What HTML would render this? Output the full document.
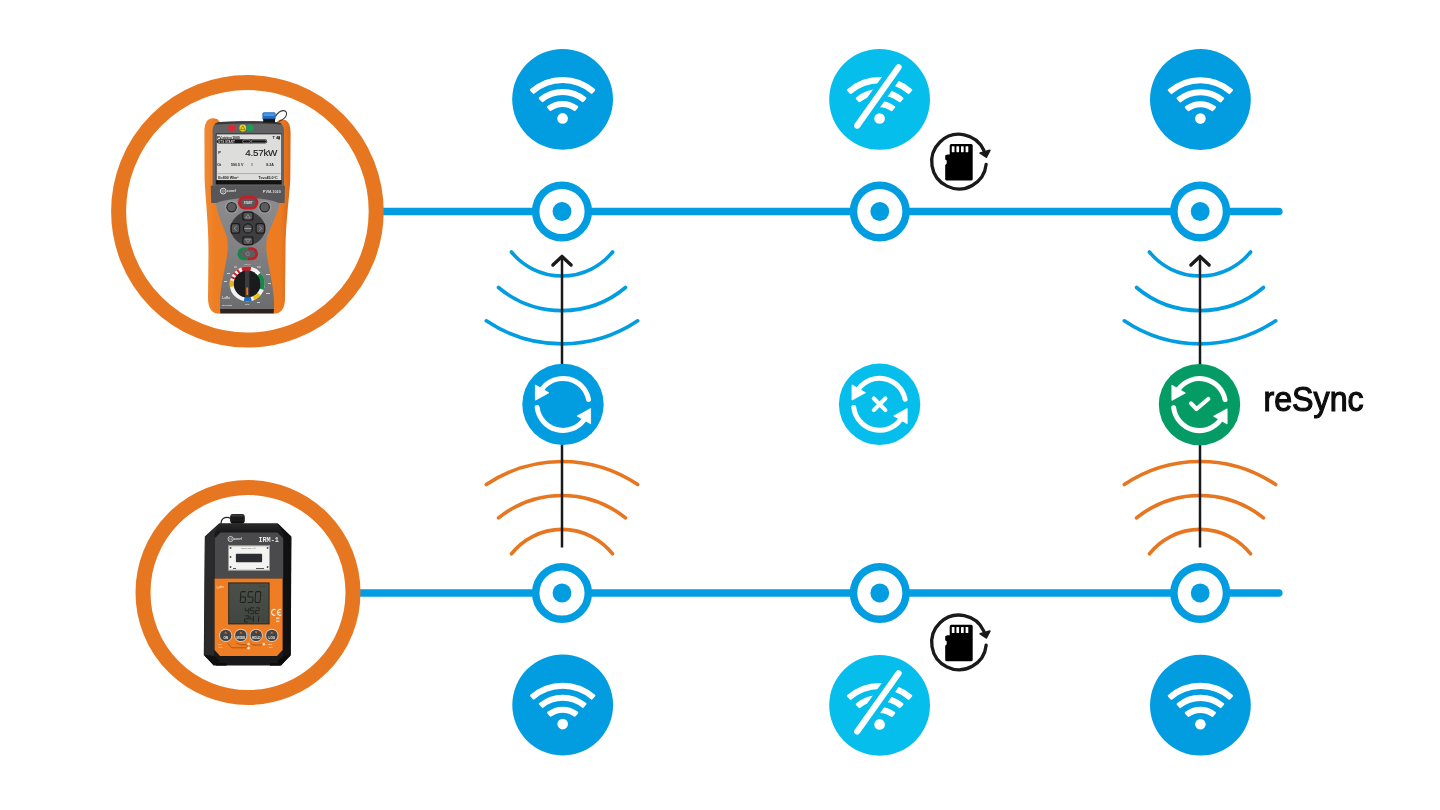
<!DOCTYPE html>
<html><head><meta charset="utf-8"><style>
html,body{margin:0;padding:0;background:#fff;}
body{width:1440px;height:810px;overflow:hidden;position:relative;}
svg{position:absolute;left:0;top:0;will-change:transform;}
.t{position:absolute;left:1263px;top:378px;font-family:"Liberation Sans",sans-serif;font-weight:bold;font-size:33px;color:#111;}
</style></head><body>
<svg width="1440" height="810" viewBox="0 0 1440 810">
<line x1="378" y1="211.5" x2="1278.8" y2="211.5" stroke="#029DE0" stroke-width="7.6" stroke-linecap="round"/>
<line x1="354" y1="593" x2="1278.8" y2="593" stroke="#029DE0" stroke-width="7.6" stroke-linecap="round"/>
<circle cx="247.4" cy="211.3" r="128.8" fill="none" stroke="#E77620" stroke-width="15"/>
<circle cx="248" cy="592.5" r="105" fill="none" stroke="#E77620" stroke-width="15"/>
<circle cx="562" cy="211.5" r="26.3" fill="#fff" stroke="#029DE0" stroke-width="7.5"/><circle cx="562" cy="211.5" r="9.4" fill="#029DE0"/>
<circle cx="562" cy="593" r="26.3" fill="#fff" stroke="#029DE0" stroke-width="7.5"/><circle cx="562" cy="593" r="9.4" fill="#029DE0"/>
<circle cx="879.8" cy="211.5" r="26.3" fill="#fff" stroke="#029DE0" stroke-width="7.5"/><circle cx="879.8" cy="211.5" r="9.4" fill="#029DE0"/>
<circle cx="879.8" cy="593" r="26.3" fill="#fff" stroke="#029DE0" stroke-width="7.5"/><circle cx="879.8" cy="593" r="9.4" fill="#029DE0"/>
<circle cx="1200.2" cy="211.5" r="26.3" fill="#fff" stroke="#029DE0" stroke-width="7.5"/><circle cx="1200.2" cy="211.5" r="9.4" fill="#029DE0"/>
<circle cx="1200.2" cy="593" r="26.3" fill="#fff" stroke="#029DE0" stroke-width="7.5"/><circle cx="1200.2" cy="593" r="9.4" fill="#029DE0"/>
<circle cx="562.6" cy="99.3" r="50.4" fill="#029DE0"/><path d="M531.02 89.91 A47.95 47.95 0 0 1 594.18 89.91 L591.54 92.79 A44.05 44.05 0 0 0 533.66 92.79 Z" fill="#fff" stroke="#fff" stroke-width="2.2" stroke-linejoin="round"/><path d="M539.86 98.16 A35.95 35.95 0 0 1 585.34 98.16 L582.78 101.10 A32.05 32.05 0 0 0 542.42 101.10 Z" fill="#fff" stroke="#fff" stroke-width="2.2" stroke-linejoin="round"/><path d="M548.06 106.97 A23.95 23.95 0 0 1 577.14 106.97 L574.63 109.96 A20.05 20.05 0 0 0 550.57 109.96 Z" fill="#fff" stroke="#fff" stroke-width="2.2" stroke-linejoin="round"/><circle cx="562.6" cy="118.4" r="5.3" fill="#fff"/>
<circle cx="879.6" cy="99.4" r="50.4" fill="#06BEEB"/><path d="M848.02 90.01 A47.95 47.95 0 0 1 911.18 90.01 L908.54 92.89 A44.05 44.05 0 0 0 850.66 92.89 Z" fill="#fff" stroke="#fff" stroke-width="2.2" stroke-linejoin="round"/><path d="M856.86 98.26 A35.95 35.95 0 0 1 902.34 98.26 L899.78 101.20 A32.05 32.05 0 0 0 859.42 101.20 Z" fill="#fff" stroke="#fff" stroke-width="2.2" stroke-linejoin="round"/><path d="M865.06 107.07 A23.95 23.95 0 0 1 894.14 107.07 L891.63 110.06 A20.05 20.05 0 0 0 867.57 110.06 Z" fill="#fff" stroke="#fff" stroke-width="2.2" stroke-linejoin="round"/><circle cx="879.6" cy="118.5" r="5.3" fill="#fff"/><line x1="898.6" y1="67.30000000000001" x2="857.2" y2="125.60000000000001" stroke="#06BEEB" stroke-width="16" stroke-linecap="butt"/><line x1="898.6" y1="67.30000000000001" x2="857.2" y2="125.60000000000001" stroke="#fff" stroke-width="6.2" stroke-linecap="round"/>
<circle cx="1200.4" cy="99.5" r="50.4" fill="#029DE0"/><path d="M1168.82 90.11 A47.95 47.95 0 0 1 1231.98 90.11 L1229.34 92.99 A44.05 44.05 0 0 0 1171.46 92.99 Z" fill="#fff" stroke="#fff" stroke-width="2.2" stroke-linejoin="round"/><path d="M1177.66 98.36 A35.95 35.95 0 0 1 1223.14 98.36 L1220.58 101.30 A32.05 32.05 0 0 0 1180.22 101.30 Z" fill="#fff" stroke="#fff" stroke-width="2.2" stroke-linejoin="round"/><path d="M1185.86 107.17 A23.95 23.95 0 0 1 1214.94 107.17 L1212.43 110.16 A20.05 20.05 0 0 0 1188.37 110.16 Z" fill="#fff" stroke="#fff" stroke-width="2.2" stroke-linejoin="round"/><circle cx="1200.4" cy="118.6" r="5.3" fill="#fff"/>
<circle cx="562.7" cy="705" r="50.4" fill="#029DE0"/><path d="M531.12 695.61 A47.95 47.95 0 0 1 594.28 695.61 L591.64 698.49 A44.05 44.05 0 0 0 533.76 698.49 Z" fill="#fff" stroke="#fff" stroke-width="2.2" stroke-linejoin="round"/><path d="M539.96 703.86 A35.95 35.95 0 0 1 585.44 703.86 L582.88 706.80 A32.05 32.05 0 0 0 542.52 706.80 Z" fill="#fff" stroke="#fff" stroke-width="2.2" stroke-linejoin="round"/><path d="M548.16 712.67 A23.95 23.95 0 0 1 577.24 712.67 L574.73 715.66 A20.05 20.05 0 0 0 550.67 715.66 Z" fill="#fff" stroke="#fff" stroke-width="2.2" stroke-linejoin="round"/><circle cx="562.7" cy="724.1" r="5.3" fill="#fff"/>
<circle cx="879.6" cy="705.3" r="50.4" fill="#06BEEB"/><path d="M848.02 695.91 A47.95 47.95 0 0 1 911.18 695.91 L908.54 698.79 A44.05 44.05 0 0 0 850.66 698.79 Z" fill="#fff" stroke="#fff" stroke-width="2.2" stroke-linejoin="round"/><path d="M856.86 704.16 A35.95 35.95 0 0 1 902.34 704.16 L899.78 707.10 A32.05 32.05 0 0 0 859.42 707.10 Z" fill="#fff" stroke="#fff" stroke-width="2.2" stroke-linejoin="round"/><path d="M865.06 712.97 A23.95 23.95 0 0 1 894.14 712.97 L891.63 715.96 A20.05 20.05 0 0 0 867.57 715.96 Z" fill="#fff" stroke="#fff" stroke-width="2.2" stroke-linejoin="round"/><circle cx="879.6" cy="724.4" r="5.3" fill="#fff"/><line x1="898.6" y1="673.1999999999999" x2="857.2" y2="731.5" stroke="#06BEEB" stroke-width="16" stroke-linecap="butt"/><line x1="898.6" y1="673.1999999999999" x2="857.2" y2="731.5" stroke="#fff" stroke-width="6.2" stroke-linecap="round"/>
<circle cx="1200.4" cy="705.2" r="50.4" fill="#029DE0"/><path d="M1168.82 695.81 A47.95 47.95 0 0 1 1231.98 695.81 L1229.34 698.69 A44.05 44.05 0 0 0 1171.46 698.69 Z" fill="#fff" stroke="#fff" stroke-width="2.2" stroke-linejoin="round"/><path d="M1177.66 704.06 A35.95 35.95 0 0 1 1223.14 704.06 L1220.58 707.00 A32.05 32.05 0 0 0 1180.22 707.00 Z" fill="#fff" stroke="#fff" stroke-width="2.2" stroke-linejoin="round"/><path d="M1185.86 712.87 A23.95 23.95 0 0 1 1214.94 712.87 L1212.43 715.86 A20.05 20.05 0 0 0 1188.37 715.86 Z" fill="#fff" stroke="#fff" stroke-width="2.2" stroke-linejoin="round"/><circle cx="1200.4" cy="724.3000000000001" r="5.3" fill="#fff"/>
<path d="M511.40 252 A65.34 65.34 0 0 0 612.60 252" fill="none" stroke="#029DE0" stroke-width="3.6" stroke-linecap="round"/><path d="M498.50 287.5 A98.83 98.83 0 0 0 625.50 287.5" fill="none" stroke="#029DE0" stroke-width="3.6" stroke-linecap="round"/><path d="M486.30 320.8 A135.59 135.59 0 0 0 637.70 320.8" fill="none" stroke="#029DE0" stroke-width="3.6" stroke-linecap="round"/><path d="M486.30 484.6 A135.59 135.59 0 0 1 637.70 484.6" fill="none" stroke="#E77620" stroke-width="3.6" stroke-linecap="round"/><path d="M498.50 517.9 A101.21 101.21 0 0 1 625.50 517.9" fill="none" stroke="#E77620" stroke-width="3.6" stroke-linecap="round"/><path d="M511.40 553.9 A64.50 64.50 0 0 1 612.60 553.9" fill="none" stroke="#E77620" stroke-width="3.6" stroke-linecap="round"/><line x1="562.0" y1="257" x2="562.0" y2="547.5" stroke="#1a1a1a" stroke-width="2.5"/><path d="M552.9 265 L562.0 256.4 L571.1 265" fill="none" stroke="#1a1a1a" stroke-width="3.4" stroke-linecap="round" stroke-linejoin="round"/>
<path d="M1149.40 252 A65.34 65.34 0 0 0 1250.60 252" fill="none" stroke="#029DE0" stroke-width="3.6" stroke-linecap="round"/><path d="M1136.50 287.5 A98.83 98.83 0 0 0 1263.50 287.5" fill="none" stroke="#029DE0" stroke-width="3.6" stroke-linecap="round"/><path d="M1124.30 320.8 A135.59 135.59 0 0 0 1275.70 320.8" fill="none" stroke="#029DE0" stroke-width="3.6" stroke-linecap="round"/><path d="M1124.30 484.6 A135.59 135.59 0 0 1 1275.70 484.6" fill="none" stroke="#E77620" stroke-width="3.6" stroke-linecap="round"/><path d="M1136.50 517.9 A101.21 101.21 0 0 1 1263.50 517.9" fill="none" stroke="#E77620" stroke-width="3.6" stroke-linecap="round"/><path d="M1149.40 553.9 A64.50 64.50 0 0 1 1250.60 553.9" fill="none" stroke="#E77620" stroke-width="3.6" stroke-linecap="round"/><line x1="1200" y1="257" x2="1200" y2="547.5" stroke="#1a1a1a" stroke-width="2.5"/><path d="M1190.9 265 L1200 256.4 L1209.1 265" fill="none" stroke="#1a1a1a" stroke-width="3.4" stroke-linecap="round" stroke-linejoin="round"/>
<circle cx="563" cy="404.4" r="40.7" fill="#029DE0"/><path d="M588.52 399.44 A26 26 0 0 0 542.13 388.90" fill="none" stroke="#fff" stroke-width="5" stroke-linecap="round"/><polygon points="535.40,385.00 535.40,400.20 548.90,392.80" fill="#fff" stroke="#fff" stroke-width="0.8" stroke-linejoin="round"/><path d="M537.19 407.57 A26 26 0 0 0 583.87 419.90" fill="none" stroke="#fff" stroke-width="5" stroke-linecap="round"/><polygon points="590.60,423.80 590.60,408.60 577.10,416.00" fill="#fff" stroke="#fff" stroke-width="0.8" stroke-linejoin="round"/>
<circle cx="879.6" cy="404.3" r="40.7" fill="#06BEEB"/><path d="M905.12 399.34 A26 26 0 0 0 858.73 388.80" fill="none" stroke="#fff" stroke-width="5" stroke-linecap="round"/><polygon points="852.00,384.90 852.00,400.10 865.50,392.70" fill="#fff" stroke="#fff" stroke-width="0.8" stroke-linejoin="round"/><path d="M853.79 407.47 A26 26 0 0 0 900.47 419.80" fill="none" stroke="#fff" stroke-width="5" stroke-linecap="round"/><polygon points="907.20,423.70 907.20,408.50 893.70,415.90" fill="#fff" stroke="#fff" stroke-width="0.8" stroke-linejoin="round"/><path d="M873.8000000000001 398.5 L885.4 410.1 M885.4 398.5 L873.8000000000001 410.1" stroke="#fff" stroke-width="4.1" stroke-linecap="round"/>
<circle cx="1199.5" cy="404.6" r="40.7" fill="#049C64"/><path d="M1225.02 399.64 A26 26 0 0 0 1178.63 389.10" fill="none" stroke="#fff" stroke-width="5" stroke-linecap="round"/><polygon points="1171.90,385.20 1171.90,400.40 1185.40,393.00" fill="#fff" stroke="#fff" stroke-width="0.8" stroke-linejoin="round"/><path d="M1173.69 407.77 A26 26 0 0 0 1220.37 420.10" fill="none" stroke="#fff" stroke-width="5" stroke-linecap="round"/><polygon points="1227.10,424.00 1227.10,408.80 1213.60,416.20" fill="#fff" stroke="#fff" stroke-width="0.8" stroke-linejoin="round"/><path d="M1191.0 403.40000000000003 L1196.5 409.0 L1208.3 399.0" fill="none" stroke="#fff" stroke-width="4.2" stroke-linecap="round" stroke-linejoin="round"/>
<path d="M983.94 150.50 A27.3 27.3 0 1 0 986.15 164.45" fill="none" stroke="#1a1a1a" stroke-width="3.3" stroke-linecap="round"/><path d="M980.2 153.0 L989.8 150.4 L986.3 157.0Z" fill="#1a1a1a" stroke="#1a1a1a" stroke-width="1.8" stroke-linejoin="round"/><path d="M949.7 144.0 h21.5 a1.5 1.5 0 0 1 1.5 1.5 v33.5 a1.5 1.5 0 0 1 -1.5 1.5 h-24.5 a1.5 1.5 0 0 1 -1.5 -1.5 v-14 l1.5 -1.5 v-3 l-1.5 -1 v-4 l2 -1 h2.5 v-9 a1.5 1.5 0 0 1 1.5 -1.5z" fill="#000"/><rect x="951.80" y="146.2" width="2.7" height="6" rx="0.6" fill="#fff"/><rect x="956.40" y="146.2" width="2.7" height="6" rx="0.6" fill="#fff"/><rect x="961.00" y="146.2" width="2.7" height="6" rx="0.6" fill="#fff"/><rect x="965.60" y="146.2" width="2.7" height="6" rx="0.6" fill="#fff"/>
<path d="M983.94 631.30 A27.3 27.3 0 1 0 986.15 645.25" fill="none" stroke="#1a1a1a" stroke-width="3.3" stroke-linecap="round"/><path d="M980.2 633.8 L989.8 631.1999999999999 L986.3 637.8Z" fill="#1a1a1a" stroke="#1a1a1a" stroke-width="1.8" stroke-linejoin="round"/><path d="M949.7 624.8 h21.5 a1.5 1.5 0 0 1 1.5 1.5 v33.5 a1.5 1.5 0 0 1 -1.5 1.5 h-24.5 a1.5 1.5 0 0 1 -1.5 -1.5 v-14 l1.5 -1.5 v-3 l-1.5 -1 v-4 l2 -1 h2.5 v-9 a1.5 1.5 0 0 1 1.5 -1.5z" fill="#000"/><rect x="951.80" y="627.0" width="2.7" height="6" rx="0.6" fill="#fff"/><rect x="956.40" y="627.0" width="2.7" height="6" rx="0.6" fill="#fff"/><rect x="961.00" y="627.0" width="2.7" height="6" rx="0.6" fill="#fff"/><rect x="965.60" y="627.0" width="2.7" height="6" rx="0.6" fill="#fff"/>
<g id="pvm">
  <defs>
    <linearGradient id="faceg" x1="0" y1="0" x2="0" y2="1">
      <stop offset="0" stop-color="#8C8C8E"/><stop offset="0.45" stop-color="#828284"/><stop offset="1" stop-color="#6C6C6E"/>
    </linearGradient>
    <linearGradient id="bumpg" x1="0" y1="0" x2="1" y2="0">
      <stop offset="0" stop-color="#F08A35"/><stop offset="0.12" stop-color="#EE7E24"/><stop offset="0.88" stop-color="#EC7B22"/><stop offset="1" stop-color="#D7691A"/>
    </linearGradient>
  </defs>
  <!-- bumper -->
  <path d="M213 118.3 C207 118.5 204.4 123 204.4 132 L204.6 180 C205.5 200 208.5 225 208.5 250 L208 298 C208 309 212 313.8 220 313.8 L273 313.8 C281 313.8 285 309 285 298 L285.5 250 C285.5 225 289 200 290.3 180 L290.6 133 C290.6 124 288 119.4 282.2 119.4 C278 119.4 276.5 121.5 275.5 126 L221 126 C220 121 218 118.3 213 118.3 Z" fill="url(#bumpg)"/>
  <!-- cable loop + connector -->
  <path d="M275.5 116.5 C280 108.5 287.5 109.5 286.5 114.5 C286 117.5 283.5 119.5 279 121.5" fill="none" stroke="#3a3a3a" stroke-width="1.1"/>
  <!-- top gray housing -->
  <path d="M220 122 C240 120.8 258 120.8 277 122.3 C281.5 122.8 284 126 284 131 L284 186 L212.6 186 L212.6 131 C212.6 125.5 215.5 122.3 220 122 Z" fill="#636365"/>
  <path d="M220 122 C240 120.8 258 120.8 277 122.3 C280 122.6 281.5 123.5 282 124.5 C260 123.3 238 123.3 214.5 124.5 C215.5 123 217.5 122.2 220 122 Z" fill="#3a3a3c"/>
  <rect x="262.4" y="112.3" width="13.3" height="7.6" rx="1.6" fill="#1F6FC2"/>
  <rect x="263.6" y="113.2" width="11" height="2.8" rx="1" fill="#4A98E6"/>
  <rect x="263.2" y="118.8" width="11.8" height="3.8" fill="#161616"/>
  <!-- LEDs -->
  <circle cx="231.8" cy="128" r="3.6" fill="#DD2A30"/>
  <circle cx="242.8" cy="128" r="3.4" fill="#E9D21C"/>
  <path d="M242.8 125.8 L245 129.6 L240.6 129.6 Z" fill="none" stroke="#5a4b00" stroke-width="0.5"/>
  <circle cx="249.9" cy="128" r="3.5" fill="#17A05C"/>
  <!-- screen -->
  <rect x="215.8" y="133.6" width="65.8" height="50.8" fill="#121212"/>
  <rect x="216.6" y="134.3" width="64.7" height="45.8" fill="#DDDEDC"/>
  <g font-family="Liberation Sans, sans-serif" font-weight="bold" fill="#1a1a1a">
    <text x="217" y="138.6" font-size="3.6" letter-spacing="-0.15">PV-string 1000</text>
    <text x="272.5" y="138.8" font-size="4">T 4▮</text>
  </g>
  <rect x="216.9" y="139.3" width="50.2" height="4.3" rx="2.1" fill="#151515"/>
  <text x="218" y="142.7" font-family="Liberation Sans, sans-serif" font-weight="bold" font-size="3" fill="#cfcfcf">GTS START</text>
  <rect x="242.6" y="139.9" width="7.8" height="3.1" rx="1.5" fill="none" stroke="#cfcfcf" stroke-width="0.5"/>
  <rect x="251.3" y="139.9" width="15" height="3.1" rx="1.5" fill="none" stroke="#cfcfcf" stroke-width="0.5"/>
  <text x="277.2" y="155.8" font-family="Liberation Sans, sans-serif" font-size="9.9" text-anchor="end" fill="#1b1b1b" stroke="#1b1b1b" stroke-width="0.15" letter-spacing="-0.25">4.57kW</text>
  <text x="218.3" y="153.6" font-family="Liberation Sans, sans-serif" font-size="4" font-weight="bold" fill="#222">P</text>
  <g font-family="Liberation Sans, sans-serif" font-size="3.6" font-weight="bold" fill="#2a2a2a">
    <text x="217.2" y="166">Gt</text>
    <text x="231" y="166">590.5 V</text>
    <text x="251.5" y="166">I</text>
    <text x="266.3" y="166">8.2A</text>
  </g>
  <line x1="217.5" y1="173.6" x2="280.5" y2="173.6" stroke="#555" stroke-width="0.35"/>
  <g font-family="Liberation Sans, sans-serif" font-size="3.6" font-weight="bold" fill="#1e1e1e">
    <text x="218.2" y="178.8">E=800 W/m²</text>
    <text x="258.5" y="178.8">Tcv=45.0°C</text>
  </g>
  <!-- logo panel -->
  <path d="M210.8 185.8 L284.9 185.8 L284.6 203 L211.2 203 Z" fill="#575759"/>
  <circle cx="223.2" cy="191.1" r="2.9" fill="none" stroke="#e6e6e6" stroke-width="0.9"/>
  <circle cx="223.2" cy="191.1" r="1.2" fill="none" stroke="#e6e6e6" stroke-width="0.5"/>
  <text x="226.8" y="192.4" font-family="Liberation Sans, sans-serif" font-size="3.5" font-weight="bold" font-style="italic" fill="#e6e6e6">sonel</text>
  <text x="280.8" y="192.6" font-family="Liberation Sans, sans-serif" font-size="3.8" font-weight="bold" text-anchor="end" fill="#dcdcdc">PVM-1020</text>
  <!-- keypad face -->
  <path d="M215.8 203.2 C232 196.5 263 196.5 279.6 203.2 C278 212 273 222 268 234 C266 240 266 248 266.8 254 C268.5 268 273 282 274 300 L274 309 L220 309 L220 300 C221 282 225.5 268 227.2 254 C228 248 228 240 226 234 C221 222 217 212 215.8 203.2 Z" fill="url(#faceg)"/>
  <path d="M220 309 L274 309 L273.6 313.3 L220.4 313.3 Z" fill="#2e2320"/>
  <!-- START -->
  <rect x="238" y="195.8" width="20.4" height="13.8" rx="6.9" fill="#C41F28"/>
  <rect x="240.8" y="198.7" width="14.8" height="8" rx="4" fill="#58585a"/>
  <text x="248.2" y="204.1" font-family="Liberation Sans, sans-serif" font-size="2.7" font-weight="bold" text-anchor="middle" fill="#e2e2e2">START</text>
  <!-- side round buttons -->
  <circle cx="231.6" cy="207.2" r="6.8" fill="#9a9a9c"/>
  <circle cx="231.6" cy="207.2" r="5.3" fill="#262628"/>
  <circle cx="231.6" cy="207.2" r="4.1" fill="#5c5c5e"/>
  <circle cx="264.7" cy="207.2" r="6.8" fill="#9a9a9c"/>
  <circle cx="264.7" cy="207.2" r="5.3" fill="#262628"/>
  <circle cx="264.7" cy="207.2" r="4.1" fill="#5c5c5e"/>
  <!-- dpad -->
  <path d="M247.9 211.2 C256 211.2 265.5 220 265.5 228.4 C265.5 237 256 245.6 247.9 245.6 C240 245.6 230.4 237 230.4 228.4 C230.4 220 240 211.2 247.9 211.2 Z" fill="#3e3e40"/>
  <g fill="#1c1c1e">
    <rect x="242.2" y="211.6" width="11.4" height="9" rx="2.2"/>
    <rect x="242.2" y="236.3" width="11.4" height="9" rx="2.2"/>
    <rect x="230.6" y="223.1" width="9.6" height="10.6" rx="2.2"/>
    <rect x="255.5" y="223.1" width="9.6" height="10.6" rx="2.2"/>
    <circle cx="247.9" cy="228.4" r="5.1"/>
  </g>
  <g fill="#555557">
    <rect x="243.5" y="212.8" width="8.8" height="6.6" rx="1.6"/>
    <rect x="243.5" y="237.5" width="8.8" height="6.6" rx="1.6"/>
    <rect x="231.8" y="224.3" width="7.2" height="8.2" rx="1.6"/>
    <rect x="256.7" y="224.3" width="7.2" height="8.2" rx="1.6"/>
    <circle cx="247.9" cy="228.4" r="3.9"/>
  </g>
  <g fill="none" stroke="#cfcfcf" stroke-width="0.45">
    <path d="M245.5 218 L247.9 214.6 L250.3 218 Z"/>
    <path d="M245.5 239.3 L250.3 239.3 L247.9 242.6 Z"/>
    <path d="M236.5 226.2 L234 228.4 L236.5 230.6"/>
    <path d="M259.3 226.2 L261.8 228.4 L259.3 230.6"/>
  </g>
  <text x="247.9" y="229.3" font-family="Liberation Sans, sans-serif" font-size="2" font-weight="bold" text-anchor="middle" fill="#ddd">ENTER</text>
  <!-- green/red button -->
  <path d="M244 247.3 L247.7 247.3 L247.7 260.3 L244 260.3 A6.5 6.5 0 0 1 244 247.3 Z" fill="#13874A"/>
  <path d="M247.7 247.3 L251.6 247.3 A6.5 6.5 0 0 1 251.6 260.3 L247.7 260.3 Z" fill="#BE1E27"/>
  <rect x="240.2" y="250" width="15" height="7.6" rx="3.8" fill="#5d5d5f"/>
  <circle cx="247.7" cy="253.8" r="1.8" fill="none" stroke="#bbb" stroke-width="0.4"/>
  <!-- dial ring -->
  <g transform="translate(247.2 284)">
    <circle r="15.4" fill="none" stroke="#f2f2f2" stroke-width="4.2"/>
    <circle r="15.4" fill="none" stroke="#C8202A" stroke-width="4.2" stroke-dasharray="9 87.8" transform="rotate(-110)"/>
    <circle r="15.4" fill="none" stroke="#C8202A" stroke-width="4.2" stroke-dasharray="2 2.2 2 2.2 2 100" transform="rotate(-160)"/>
    <circle r="15.4" fill="none" stroke="#138A4C" stroke-width="4.2" stroke-dasharray="16 80.8" transform="rotate(-40)"/>
    <circle r="15.4" fill="none" stroke="#E8C51E" stroke-width="4.2" stroke-dasharray="7 89.8" transform="rotate(40)"/>
    <circle r="15.4" fill="none" stroke="#1C6DC2" stroke-width="4.2" stroke-dasharray="7 89.8" transform="rotate(75)"/>
    <circle r="15.4" fill="none" stroke="#E8B21E" stroke-width="4.2" stroke-dasharray="6 90.8" transform="rotate(170)"/>
    <circle r="13.4" fill="#1b1b1d"/>
    <rect x="-2.2" y="-13" width="4.4" height="26" fill="#3b3b3d"/>
    <rect x="-0.9" y="3.5" width="1.8" height="7.5" fill="#E8761F"/>
  </g>
  <!-- small labels -->
  <g font-family="Liberation Sans, sans-serif" font-weight="bold" fill="#dedede">
    <text x="247.2" y="265.2" font-size="2.3" text-anchor="middle">AUTO</text>
    <text x="222.3" y="299.4" font-size="3">LoRa</text>
    <text x="222" y="305.8" font-size="2.2">Bluetooth</text>
    <text x="247.2" y="304.8" font-size="1.8" text-anchor="middle">MEM</text>
  </g>
  <g fill="#d0d0d0">
    <rect x="234" y="266.5" width="3" height="1" /><rect x="257" y="266.5" width="4" height="1"/>
    <rect x="227" y="273" width="3" height="1"/><rect x="266" y="274" width="4" height="1"/>
    <rect x="224" y="281" width="3" height="1"/><rect x="268" y="283" width="3" height="1"/>
    <rect x="266" y="293" width="4" height="1"/><rect x="257" y="302" width="3" height="1"/>
  </g>
</g>
<g id="irm">
  <defs>
    <linearGradient id="lcdg" x1="0" y1="0" x2="0" y2="1">
      <stop offset="0" stop-color="#4B504B"/><stop offset="1" stop-color="#414641"/>
    </linearGradient>
    <linearGradient id="bevt" x1="0" y1="0" x2="0" y2="1">
      <stop offset="0" stop-color="#2a2a2c"/><stop offset="1" stop-color="#161618"/>
    </linearGradient>
  </defs>
  <!-- connector -->
  <path d="M231 518.5 C225 515.5 220.5 519 221.2 524.5" fill="none" stroke="#222" stroke-width="1.2"/>
  <rect x="230.1" y="513.9" width="14.7" height="9.6" rx="3" fill="#1a1a1a"/>
  <rect x="231" y="514.4" width="12.9" height="2.2" rx="1" fill="#3a3a3a"/>
  <rect x="231.5" y="521.5" width="12" height="2" fill="#0e0e0e"/>
  <!-- body -->
  <path d="M219 523.4 L278 523.4 L291.4 536.5 L290.8 655 L281 665.4 L213.8 665.4 L203.8 655 L204.8 536.5 Z" fill="#19191b"/>
  <path d="M219.5 523.6 L277.5 523.6 L283.5 532.8 L213.5 532.8 Z" fill="url(#bevt)"/>
  <path d="M205 537 L219.3 523.8 L214.6 533 L214.3 656 L204.2 655 Z" fill="#2a2a2c"/>
  <path d="M291.2 537 L277.7 523.8 L283.3 533 L283.3 656 L290.6 655 Z" fill="#101012"/>
  <path d="M204 655 L214.3 656 L220 661.5 L213.8 665.4 Z" fill="#0f0f10"/>
  <path d="M291 655 L283.3 656 L277 661.5 L281 665.4 Z" fill="#0a0a0b"/>
  <!-- gray face -->
  <path d="M220.5 532.6 L277.3 532.6 L283.2 538.3 L283.2 578.6 L214.8 578.6 L214.8 538.3 Z" fill="#4A4A4C"/>
  <circle cx="230.6" cy="539" r="2.6" fill="none" stroke="#e2e2e2" stroke-width="0.8"/>
  <circle cx="230.6" cy="539" r="1.1" fill="none" stroke="#e2e2e2" stroke-width="0.45"/>
  <text x="233.6" y="540.4" font-family="Liberation Sans, sans-serif" font-size="3.2" font-weight="bold" font-style="italic" fill="#e2e2e2">sonel</text>
  <text x="278.8" y="541.8" font-family="Liberation Mono, monospace" font-size="6.8" font-weight="bold" text-anchor="end" fill="#e8e8e8">IRM-1</text>
  <rect x="228" y="545.4" width="42" height="25.2" fill="#F3F3F1"/>
  <rect x="228.5" y="545.9" width="41" height="24.2" fill="none" stroke="#6a6a6a" stroke-width="0.6"/>
  <rect x="235.9" y="553.8" width="26.2" height="8.4" rx="0.8" fill="#2A2E32"/>
  <g fill="#555" font-family="Liberation Sans, sans-serif" font-size="1.8">
    <text x="241" y="548.6">LMN 60 60Ω 'Y'/∅</text>
    <rect x="229.8" y="547" width="1.5" height="2" /><rect x="229.8" y="556" width="1.5" height="2"/><rect x="229.8" y="566" width="1.5" height="2"/>
    <rect x="266.8" y="547" width="1.5" height="2" /><rect x="266.8" y="566" width="1.5" height="2"/>
    <rect x="233" y="568" width="3" height="1"/><rect x="256" y="568" width="8" height="1"/>
  </g>
  <!-- orange face -->
  <path d="M214.6 578.5 L282.6 578.5 L282.6 650 L277 656 L220 656 L214.6 650 Z" fill="#EF7D24"/>
  <rect x="228.2" y="582.4" width="41.4" height="42" fill="#262826"/>
  <rect x="229.2" y="583.4" width="39.4" height="40" fill="url(#lcdg)"/>
  <g id="lcdnums"><path d="M241.56 591.60L245.36 591.60M240.91 592.25L240.61 596.57M241.18 597.00L244.98 597.00M240.55 597.43L240.25 601.75M240.80 602.40L244.60 602.40M245.55 597.43L245.25 601.75" stroke="#1e221e" stroke-width="1.05" stroke-linecap="round" fill="none"/><path d="M248.96 591.60L252.76 591.60M248.31 592.25L248.01 596.57M248.58 597.00L252.38 597.00M252.95 597.43L252.65 601.75M248.20 602.40L252.00 602.40" stroke="#1e221e" stroke-width="1.05" stroke-linecap="round" fill="none"/><path d="M256.36 591.60L260.16 591.60M260.71 592.25L260.41 596.57M260.35 597.43L260.05 601.75M255.60 602.40L259.40 602.40M255.35 597.43L255.05 601.75M255.71 592.25L255.41 596.57" stroke="#1e221e" stroke-width="1.05" stroke-linecap="round" fill="none"/><path d="M245.38 608.15L245.22 610.47M245.62 610.70L248.28 610.70M248.88 608.15L248.72 610.47M248.69 610.93L248.52 613.25" stroke="#1e221e" stroke-width="0.85" stroke-linecap="round" fill="none"/><path d="M251.03 607.80L253.69 607.80M250.58 608.15L250.42 610.47M250.82 610.70L253.48 610.70M253.89 610.93L253.72 613.25M250.62 613.60L253.28 613.60" stroke="#1e221e" stroke-width="0.85" stroke-linecap="round" fill="none"/><path d="M256.23 607.80L258.89 607.80M259.28 608.15L259.12 610.47M256.02 610.70L258.68 610.70M255.59 610.93L255.42 613.25M255.82 613.60L258.48 613.60" stroke="#1e221e" stroke-width="0.85" stroke-linecap="round" fill="none"/><path d="M245.35 615.80L248.01 615.80M248.41 616.17L248.23 618.65M245.14 618.90L247.80 618.90M244.70 619.15L244.53 621.63M244.92 622.00L247.58 622.00" stroke="#1e221e" stroke-width="0.85" stroke-linecap="round" fill="none"/><path d="M250.11 616.17L249.93 618.65M250.34 618.90L253.00 618.90M253.61 616.17L253.43 618.65M253.40 619.15L253.23 621.63" stroke="#1e221e" stroke-width="0.85" stroke-linecap="round" fill="none"/><path d="M258.81 616.17L258.63 618.65M258.60 619.15L258.43 621.63" stroke="#1e221e" stroke-width="0.85" stroke-linecap="round" fill="none"/></g>
  <g fill="#262a26" font-family="Liberation Sans, sans-serif" font-size="2.2">
    <text x="258" y="586.6">°C %RH</text>
    <text x="262" y="596">%</text>
    <text x="262" y="610">%</text>
    <text x="262" y="620">°C</text>
  </g>
  <g fill="none" stroke="#f4f4f4" stroke-width="1.1">
    <path d="M275.5 609.6 A2.9 2.9 0 1 0 275.5 615"/>
    <path d="M281.3 609.6 A2.9 2.9 0 1 0 281.3 615 M277.8 612.3 L280.6 612.3"/>
  </g>
  <g fill="#f1c9a4" font-family="Liberation Sans, sans-serif" font-size="1.8">
    <rect x="276" y="617.5" width="3.5" height="1.6"/><rect x="276" y="620.5" width="3.5" height="1.6"/>
  </g>
  <text x="216.5" y="588.3" font-family="Liberation Sans, sans-serif" font-size="3" font-weight="bold" fill="#fde6d2" transform="rotate(-8 218 587)">LoRa</text>
  <!-- buttons -->
  <g>
    <circle cx="225.7" cy="635.4" r="6.6" fill="#cfcfcf"/><circle cx="225.7" cy="635.4" r="5.7" fill="#444446"/>
    <circle cx="240.8" cy="635.4" r="6.6" fill="#cfcfcf"/><circle cx="240.8" cy="635.4" r="5.7" fill="#444446"/>
    <circle cx="256.2" cy="635.4" r="6.6" fill="#cfcfcf"/><circle cx="256.2" cy="635.4" r="5.7" fill="#444446"/>
    <circle cx="271.8" cy="635.4" r="6.6" fill="#cfcfcf"/><circle cx="271.8" cy="635.4" r="5.7" fill="#444446"/>
  </g>
  
  <g fill="#E8761F">
    <path d="M224.2 633.5 L227.2 633.5 L225.7 631.6 Z"/><path d="M239.3 633.5 L242.3 633.5 L240.8 631.6 Z"/>
    <path d="M254.7 631.6 L257.7 631.6 L256.2 633.5 Z"/><path d="M270.3 633.5 L273.3 633.5 L271.8 631.6 Z"/>
  </g>
  <g font-family="Liberation Sans, sans-serif" font-size="3" font-weight="bold" text-anchor="middle" fill="#f4f4f4">
    <text x="225.7" y="638.6">ON</text><text x="240.8" y="638.6" textLength="8.6" lengthAdjust="spacingAndGlyphs">MODE</text><text x="256.2" y="638.6" textLength="8.6" lengthAdjust="spacingAndGlyphs">HOLD</text><text x="271.8" y="638.6">LOG</text>
  </g>
  <g fill="none" stroke="#5c2e0a" stroke-width="0.45">
    <path d="M227.5 643 L231.8 647.8 L245.6 647.8 L248 645.5"/>
    <path d="M236 643 L241 644.8 L246.5 644.8"/>
    <path d="M250.5 643 L253 645 L261 645 L263 643.6"/>
  </g>
  <g fill="#f6dcc4">
    <circle cx="248.6" cy="644" r="1.35"/><circle cx="248.6" cy="648.2" r="1.35"/><circle cx="263.8" cy="644.2" r="1.35"/>
  </g>
  <g font-family="Liberation Sans, sans-serif" font-size="1.8" font-weight="bold" fill="#fde2c8">
    <text x="218.2" y="645.4">OFF</text><text x="218.6" y="648.4">CAL</text>
    <text x="268" y="645.4">MEM</text><text x="269" y="648.4">REC</text>
  </g>
  <rect x="216" y="663.2" width="10.5" height="2.4" fill="#0a0a0a"/>
  <rect x="270" y="663.2" width="10.5" height="2.4" fill="#0a0a0a"/>
</g>

<text x="0" y="0" transform="translate(1263.5 411.1) scale(0.92 1)" font-family="Liberation Sans, sans-serif" font-weight="normal" font-size="35" fill="#0d0d0d" stroke="#0d0d0d" stroke-width="1.2">reSync</text>
</svg>

</body></html>
